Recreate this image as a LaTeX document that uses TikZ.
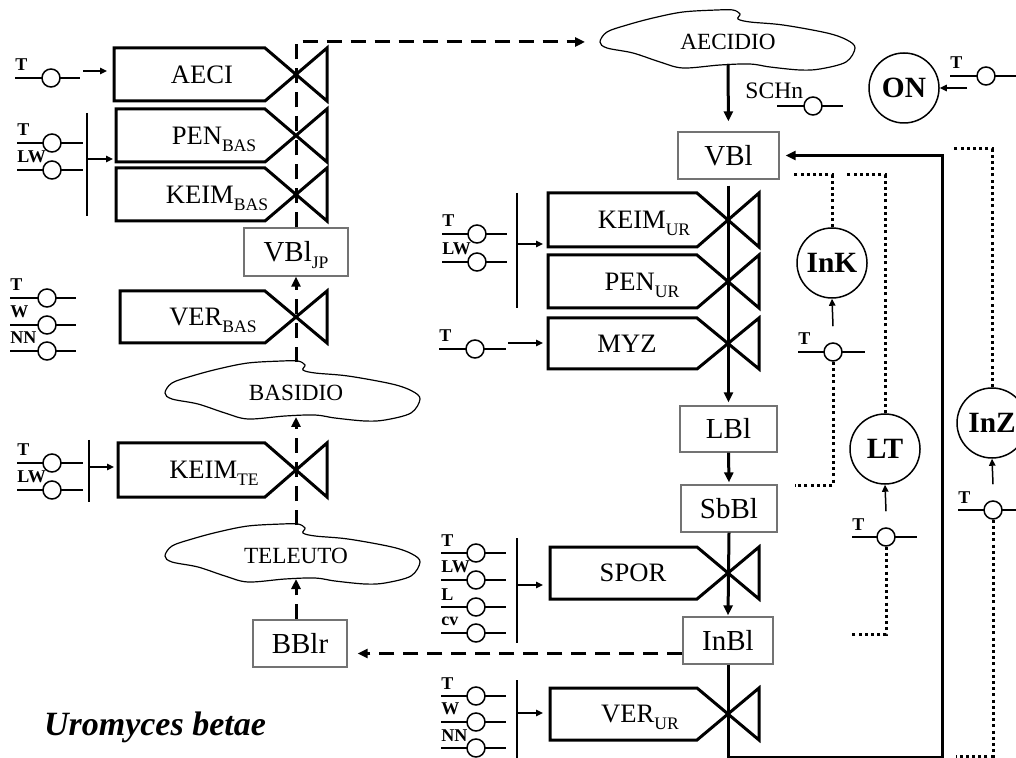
\documentclass[tikz,border=0pt]{standalone}
\usepackage{fontspec}
\setmainfont{Liberation Serif}
\usetikzlibrary{arrows.meta}
\newcommand\sub[1]{\raisebox{-3.5pt}{\fontsize{8.8}{9}\selectfont #1}}
\newcommand\procshape[7]{%
  \draw[proc] (#2,#3) -- (#5-31,#3) -- (#5,{(#3+#4)/2}) -- (#5-31,#4) -- (#2,#4) -- cycle;
  \draw[proc] (#5,{(#3+#4)/2}) -- (#5+31,#3) -- (#5+31,#4) -- cycle;
  \node[proclabel] (#1) at (#6,{(#3+#4)/2}) {#7};
}
\newcommand\conv[6]{%
  \draw[convline] (#4,#3) -- (#5,#3);
  \node[convc] (#1) at (#2,#3) {};
  \node[convlab] (#1lab) at (#4,#3) {#6};
}
\newcommand\cloudat[2]{%
  \begin{scope}[shift={(#1,#2)}]
  \draw[cloudline] plot[smooth cycle, tension=0.55] coordinates {
    (0,0) (7,-10) (27,-17) (53,-24) (83,-30) (117,-32) (133,-32) (140,-28) (138,-23)
    (150,-20) (183,-17) (227,-9) (247,-2) (255,6) (246,20) (220,27) (200,28) (170,25)
    (150,22) (120,23) (83,26) (60,20) (33,11) (7,6)};
  \end{scope}
}
\begin{document}
\begin{tikzpicture}[x=0.5pt,y=-0.5pt,
  proc/.style={line width=1.5pt, line join=miter, draw=black},
  proclabel/.style={font=\fontsize{13.3}{14}\selectfont, inner sep=0pt, text height=8.8pt, text depth=0pt},
  statebox/.style={draw=black!55, fill=white, line width=0.65pt, font=\fontsize{14.5}{15}\selectfont, inner sep=0pt, text height=9.6pt, text depth=0pt},
  cloudline/.style={line width=0.6pt},
  cloudlab/.style={font=\fontsize{11.6}{12}\selectfont, inner sep=0pt},
  convline/.style={line width=0.75pt},
  convc/.style={circle, draw, fill=white, line width=0.75pt, minimum size=9pt, inner sep=0pt},
  convlab/.style={font=\bfseries\fontsize{9}{9}\selectfont, inner sep=0pt, anchor=south west, yshift=3.3pt},
  bigc/.style={circle, draw, line width=0.75pt, minimum size=35pt, inner sep=0pt, text height=9.7pt, text depth=0pt, font=\bfseries\fontsize{14.7}{15}\selectfont},
  smallarrow/.style={line width=0.75pt, -{Triangle[length=3.5pt,width=3.2pt]}},
  spinearrow/.style={line width=1.5pt, line join=miter, -{Triangle[length=5pt,width=4.5pt]}},
  dasharrow/.style={line width=1.5pt, dash pattern=on 7.5pt off 4.5pt, -{Triangle[length=5pt,width=4.5pt]}},
  dotline/.style={line width=1.5pt, dash pattern=on 1.5pt off 1.6pt},
  bar/.style={line width=0.9pt},
]
\path[use as bounding box] (0,0) rectangle (1016,758);

% process boxes with valves
\procshape{aeci}{114}{48}{101}{296}{202}{AECI}
\procshape{penbas}{116}{109}{162}{296}{214}{PEN\sub{BAS}}
\procshape{keimbas}{116}{168}{221}{296}{217}{KEIM\sub{BAS}}
\procshape{verbas}{120}{291}{343}{296}{213}{VER\sub{BAS}}
\procshape{keimte}{118}{443}{497}{296}{214}{KEIM\sub{TE}}
\procshape{keimur}{548}{193}{247}{728}{644}{KEIM\sub{UR}}
\procshape{penur}{548}{255}{308}{728}{642}{PEN\sub{UR}}
\procshape{myz}{548}{318}{369}{728}{627}{MYZ}
\procshape{spor}{550}{547}{599}{728}{633}{SPOR}
\procshape{verur}{550}{688}{740}{728}{640}{VER\sub{UR}}

% clouds
\cloudat{600}{42}
\cloudat{165}{393}
\cloudat{165}{556}
\node[cloudlab] (aecidio) at (728,42) {AECIDIO};
\node[cloudlab] (basidio) at (296,393) {BASIDIO};
\node[cloudlab] (teleuto) at (296,556) {TELEUTO};
\coordinate (aecidioW) at (600,42);
\coordinate (aecidioS) at (728,64);
\coordinate (basidioN) at (296,362);
\coordinate (basidioS) at (296,417);
\coordinate (teleutoN) at (296,525);
\coordinate (teleutoS) at (296,579);
\coordinate (colL) at (296,0);

% state boxes
\node[statebox, minimum width=50.5pt, minimum height=23.5pt] (vbl) at (728.5,155.5) {VBl};
\node[statebox, minimum width=52pt, minimum height=24pt] (vbljp) at (296,252) {VBl\sub{JP}};
\node[statebox, minimum width=48.5pt, minimum height=23pt] (lbl) at (728.5,429) {LBl};
\node[statebox, minimum width=48pt, minimum height=23.5pt] (sbbl) at (729,508.5) {SbBl};
\node[statebox, minimum width=45pt, minimum height=23.5pt] (inbl) at (728,640.5) {InBl};
\node[statebox, minimum width=47pt, minimum height=23.5pt] (bblr) at (300,643.5) {BBlr};

% big circles
\node[bigc] (on) at (904,88) {ON};
\node[bigc] (ink) at (832,263) {InK};
\node[bigc] (lt) at (885,449) {LT};
\node[bigc] (inz) at (992,423) {InZ};

% dashed flows (left)
\draw[dasharrow, shorten >=7.5pt] (vbljp.north) |- (aecidioW);
\draw[dasharrow] (basidioN) -- (vbljp.south);
\draw[dasharrow] (teleutoN) -- (basidioS);
\draw[dasharrow] (bblr.north -| colL) -- (teleutoS);
\draw[dasharrow, shorten >=5pt] ([yshift=-6.5pt]inbl.west) -- ([yshift=-5pt]bblr.east);

% solid spine (right)
\draw[spinearrow, shorten >=5pt] (aecidioS) -- (vbl.north);
\draw[spinearrow, shorten <=3pt, shorten >=1.5pt] (vbl.south) -- (lbl.north);
\draw[spinearrow, shorten >=1pt] (lbl.south) -- (sbbl.north);
\draw[spinearrow, shorten >=0.5pt] (sbbl.south) -- (inbl.north);
\coordinate (loopB) at (942,757);
\draw[spinearrow, shorten >=3pt] (inbl.south) |- (loopB) |- (vbl.east);

% converters
\conv{aeciT}{51}{78}{15}{80}{T}
\conv{penT}{52}{143}{17}{83}{T}
\conv{penLW}{52}{170}{17}{83}{LW}
\conv{verbasT}{47}{298}{10}{76}{T}
\conv{verbasW}{47}{325}{10}{76}{W}
\conv{verbasNN}{47}{351}{10}{76}{NN}
\conv{keimteT}{52}{463}{17}{83}{T}
\conv{keimteLW}{52}{490}{17}{83}{LW}
\conv{keimurT}{477}{234}{442}{507}{T}
\conv{keimurLW}{477}{262}{442}{507}{LW}
\conv{myzT}{475}{349}{439}{506}{T}
\conv{sporT}{476}{553}{441}{506}{T}
\conv{sporLW}{476}{580}{441}{506}{LW}
\conv{sporL}{476}{607}{441}{506}{L}
\conv{sporcv}{476}{633}{441}{506}{cv}
\conv{verurT}{476}{696}{441}{506}{T}
\conv{verurW}{476}{722}{441}{506}{W}
\conv{verurNN}{476}{748}{441}{506}{NN}
\conv{onT}{986}{76}{950}{1018}{T}
\conv{inkT}{833}{352}{798}{865}{T}
\conv{ltT}{886}{537}{852}{917}{T}
\conv{inzT}{993}{510}{958}{1018}{T}
\draw[convline] (777,106) -- (843,106);
\node[convc] (schn) at (813,106) {};
\node[font=\fontsize{11.8}{12}\selectfont, inner sep=0pt, anchor=south west] (schnlab) at (745,99) {SCHn};

% collecting bars
\draw[bar] (87,113) -- (87,216);
\draw[bar] (89,440) -- (89,502);
\draw[bar] (517,193) -- (517,308);
\draw[bar] (517,538) -- (517,643);
\draw[bar] (517,680) -- (517,760);

% input arrows
\coordinate (aA) at (83,71);   \coordinate (aB) at (107,71);
\coordinate (pA) at (87,159);  \coordinate (pB) at (113,159);
\coordinate (kA) at (89,467);  \coordinate (kB) at (114,467);
\coordinate (uA) at (517,244); \coordinate (uB) at (543,244);
\coordinate (mA) at (508,343); \coordinate (mB) at (543,343);
\coordinate (sA) at (517,585); \coordinate (sB) at (543,585);
\coordinate (vA) at (517,713); \coordinate (vB) at (543,713);
\coordinate (onIn) at (967,88);
\draw[smallarrow] (aA) -- (aB);
\draw[smallarrow] (pA) -- (pB);
\draw[smallarrow] (kA) -- (kB);
\draw[smallarrow] (uA) -- (uB);
\draw[smallarrow] (mA) -- (mB);
\draw[smallarrow] (sA) -- (sB);
\draw[smallarrow] (vA) -- (vB);
\draw[smallarrow] (onIn) -- (on.east);
\draw[smallarrow] ([yshift=8pt]inkT.north) -- (ink.south);
\draw[smallarrow] ([yshift=8pt]ltT.north) -- (lt.south);
\draw[smallarrow] ([yshift=8pt]inzT.north) -- (inz.south);

% dotted information links
\coordinate (dk1) at (792,175);
\coordinate (dk2) at (795,485);
\coordinate (dl1) at (847,175);
\coordinate (dl2) at (850,634);
\coordinate (dz1) at (953,149);
\coordinate (dz2) at (956,756);
\draw[dotline] (ink.north) |- (dk1);
\draw[dotline] (inkT.south) |- (dk2);
\draw[dotline] (lt.north) |- (dl1);
\draw[dotline] (ltT.south) |- (dl2);
\draw[dotline] (inz.north) |- (dz1);
\draw[dotline] (inzT.south) |- (dz2);

\node[font=\bfseries\itshape\fontsize{17}{18}\selectfont, inner sep=0pt] (title) at (155,727) {Uromyces betae};
\end{tikzpicture}
\end{document}
